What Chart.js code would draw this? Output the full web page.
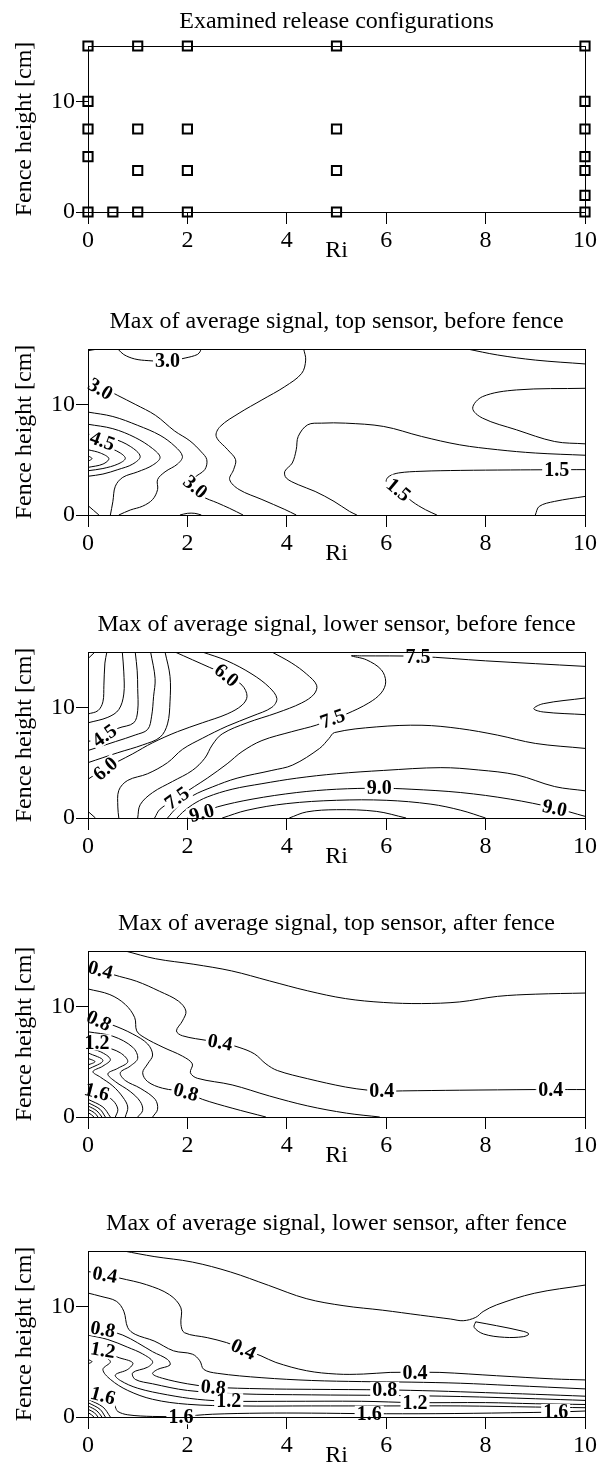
<!DOCTYPE html>
<html>
<head>
<meta charset="utf-8">
<script src="https://cdn.jsdelivr.net/npm/chart.js@4.4.1/dist/chart.umd.min.js"></script>
<style>
  html, body { margin: 0; padding: 0; background: #fff; }
  body { position: relative; width: 602px; height: 1462px; overflow: hidden; }
  canvas { position: absolute; left: 0; }
</style>
</head>
<body>
<canvas id="p0" width="602" height="303"></canvas>
<canvas id="p1" width="602" height="303"></canvas>
<canvas id="p2" width="602" height="303"></canvas>
<canvas id="p3" width="602" height="303"></canvas>
<canvas id="p4" width="602" height="303"></canvas>
<script>
// ---- axes ----
const riTicks = [0, 2, 4, 6, 8, 10];
const heightTicks = [0, 10];
const panelTops = [46, 349, 652, 951, 1251];

const panelTitles = [
  'Examined release configurations',
  'Max of average signal, top sensor, before fence',
  'Max of average signal, lower sensor, before fence',
  'Max of average signal, top sensor, after fence',
  'Max of average signal, lower sensor, after fence'
];

// ---- examined release configurations ----
const configRi     = [0, 0, 0, 0, 0, 0.5, 1, 1, 1, 1, 2, 2, 2, 2, 5, 5, 5, 5, 10, 10, 10, 10, 10, 10, 10];
const configHeight = [0, 5, 7.5, 10, 15, 0, 0, 3.75, 7.5, 15, 0, 3.75, 7.5, 15, 0, 3.75, 7.5, 15, 0, 1.5, 3.75, 5, 7.5, 10, 15];

const L = (level, ri, h) => ({ level, ri, h });

// ---- top sensor, before fence: contour lines (Ri, height) ----
const topBeforeLines = [
  L(3.0, [0, 0.2], [14.85, 15]),
  L(3.0, [0.6, 0.72, 0.94, 1.21, 1.6, 1.97, 2.2, 2.26, 2.27], [15, 14.5, 14.1, 13.95, 13.9, 14.2, 14.5, 14.8, 15]),
  L(3.0, [0, 0.3, 0.6, 0.95, 1.36, 1.74, 2.05, 2.28, 2.39, 2.35, 2.13, 2.12, 2.3, 2.6, 2.85, 3.12],
         [12.0, 11.5, 10.8, 10.0, 9.0, 7.6, 6.7, 5.7, 5.0, 4.1, 3.3, 2.6, 1.7, 1.1, 0.6, 0]),
  L(2.5, [4.34, 4.38, 4.3, 3.96, 3.5, 3.04, 2.66, 2.58, 2.81, 2.97, 2.93, 2.85, 3.04, 3.5, 3.96, 4.19],
         [15, 14, 12.8, 11.6, 10.4, 9.2, 8.0, 7.1, 5.9, 5.0, 4.1, 3.2, 2.3, 1.4, 0.5, 0]),
  L(2.0, [10, 9.0, 8.24, 7.48, 6.71, 5.95, 5.18, 4.7, 4.42, 4.23, 4.19, 4.11, 3.96, 3.99, 4.23, 4.57, 4.95, 5.26, 5.41],
         [5.4, 5.6, 5.9, 6.34, 7.1, 8.0, 8.3, 8.3, 8.15, 7.1, 5.9, 4.7, 3.94, 3.34, 2.74, 2.13, 1.23, 0.33, 0]),
  L(1.5, [10, 8.62, 7.94, 7.74, 7.94, 8.62, 9.39, 10], [11.45, 11.3, 10.7, 9.65, 8.75, 7.7, 6.64, 6.43]),
  L(1.5, [7.63, 8.24, 9.0, 10], [15, 14.46, 14.0, 13.65]),
  L(1.5, [10, 9.3, 8.5, 7.5, 6.7, 6.25, 6.06, 6.0, 6.05, 6.25, 6.52, 6.79, 7.02],
         [4.1, 4.09, 4.07, 4.03, 3.95, 3.8, 3.5, 3.1, 2.7, 2.28, 1.23, 0.48, 0]),
  L(1.0, [9.0, 9.08, 9.39, 10], [0, 0.78, 1.23, 1.68]),
  L(3.5, [0, 0.5, 1.0, 1.45, 1.75, 1.9, 1.8, 1.55, 1.4, 1.4, 1.3, 1.1, 0.85, 0.62],
         [9.3, 8.9, 8.1, 7.2, 6.2, 5.3, 4.6, 3.9, 3.2, 2.3, 1.4, 0.8, 0.45, 0]),
  L(3.0, [1.85, 2.0, 2.15, 2.28], [0, 0.15, 0.15, 0]),
  L(4.0, [0, 0.5, 0.95, 1.3, 1.45, 1.3, 1.0, 0.7, 0.55, 0.5, 0.45], [8.2, 7.8, 7.0, 6.0, 5.2, 4.5, 3.9, 3.4, 2.6, 1.2, 0]),
  L(4.5, [0, 0.5, 0.85, 1.05, 0.9, 0.6, 0.3, 0], [7.3, 6.9, 6.2, 5.3, 4.6, 4.1, 3.7, 3.5]),
  L(5.0, [0, 0.35, 0.65, 0.75, 0.6, 0.3, 0], [6.5, 6.2, 5.6, 5.1, 4.6, 4.2, 4.0]),
  L(5.5, [0, 0.25, 0.42, 0.3, 0], [5.9, 5.6, 5.1, 4.6, 4.3]),
  L(6.0, [0, 0.08, 0], [5.35, 5.1, 4.85]),
  L(4.0, [0, 0.22], [0.85, 0])
];
const topBeforeLabels = [
  { text: '3.0', ri: 1.6, h: 13.9, angle: 0 },
  { text: '3.0', ri: 0.25, h: 11.4, angle: 30 },
  { text: '4.5', ri: 0.29, h: 6.7, angle: 20 },
  { text: '3.0', ri: 2.16, h: 2.55, angle: 40 },
  { text: '1.5', ri: 6.25, h: 2.28, angle: 40 },
  { text: '1.5', ri: 9.43, h: 4.07, angle: 0 }
];

// ---- lower sensor, before fence ----
const lowerBeforeLines = [
  L(3.0, [0, 0.14], [14.4, 15]),
  L(3.5, [0, 0.2, 0.3, 0.32, 0.34, 0.38], [9.4, 9.7, 10.5, 12, 14, 15]),
  L(4.0, [0, 0.4, 0.62, 0.72, 0.72, 0.69], [8.6, 9.1, 9.8, 11.2, 13.2, 15]),
  L(4.5, [0, 0.35, 0.6, 0.92, 1.0, 1.0, 0.99, 0.95], [6.9, 7.5, 8.1, 8.6, 9.7, 11.7, 13.3, 15]),
  L(5.0, [0, 0.55, 0.95, 1.2, 1.28, 1.32, 1.35, 1.26], [6.1, 6.9, 7.5, 8.0, 9.2, 11.0, 12.6, 15]),
  L(5.5, [0, 0.6, 1.1, 1.45, 1.6, 1.65, 1.65, 1.55], [5.0, 5.9, 6.6, 7.3, 8.5, 10.5, 12.8, 15]),
  L(6.0, [1.75, 2.1, 2.45, 2.8, 3.1, 3.2, 3.1, 2.8, 2.3, 1.8, 1.3, 0.9, 0.6, 0.35, 0.1, 0],
         [15, 14.3, 13.6, 12.9, 12.0, 11.0, 10.2, 9.4, 8.6, 7.8, 6.8, 5.8, 5.1, 4.5, 3.8, 3.5]),
  L(6.5, [2.3, 2.8, 3.3, 3.65, 3.8, 3.7, 3.3, 2.8, 2.3, 1.9, 1.6, 1.2, 0.8, 0.62, 0.6, 0.62],
         [15, 14.2, 13.0, 11.8, 10.8, 10.0, 9.2, 8.3, 7.2, 6.2, 5.0, 4.0, 3.4, 2.5, 1.0, 0]),
  L(7.0, [3.7, 4.1, 4.4, 4.6, 4.55, 4.3, 3.8, 3.2, 2.7, 2.5, 2.35, 2.1, 1.7, 1.3, 1.05, 1.0],
         [15, 14.0, 13.0, 12.0, 11.2, 10.4, 9.5, 8.6, 7.6, 6.6, 5.4, 4.3, 3.3, 2.3, 1.2, 0]),
  L(7.5, [10, 8.0, 6.64, 5.5, 5.3, 5.6, 5.9, 5.99, 5.9, 5.65, 5.2, 4.92, 4.6, 4.1, 3.5, 3.1, 2.8, 2.4, 2.14, 1.79, 1.45, 1.34],
         [13.7, 14.2, 14.6, 14.65, 14.65, 14.3, 13.4, 12.3, 11.3, 10.4, 9.4, 8.98, 8.4, 7.8, 7.0, 6.0, 4.9, 3.6, 2.84, 1.8, 0.8, 0]),
  L(8.0, [10, 9.16, 8.97, 9.16, 10], [10.84, 10.33, 9.88, 9.58, 9.34]),
  L(8.0, [10, 9.0, 8.24, 7.48, 6.72, 5.8, 4.96, 4.85, 4.66, 4.12, 3.7, 3.0, 2.5, 2.1, 1.8, 1.6],
         [6.29, 6.74, 7.49, 8.08, 8.38, 8.23, 7.72, 7.19, 6.29, 4.79, 4.3, 3.6, 2.8, 2.0, 1.0, 0]),
  L(8.5, [10, 9.39, 8.63, 7.86, 7.1, 5.95, 5.0, 4.2, 3.5, 2.9, 2.4, 2.1, 1.9, 1.79],
         [2.46, 2.84, 3.89, 4.34, 4.55, 4.3, 4.0, 3.6, 3.1, 2.6, 1.9, 1.2, 0.5, 0]),
  L(9.0, [10, 9.39, 8.5, 7.5, 6.5, 5.86, 5.0, 4.2, 3.3, 2.6, 2.29, 2.0],
         [0.15, 0.9, 1.7, 2.3, 2.6, 2.69, 2.6, 2.3, 1.7, 1.0, 0.45, 0]),
  L(9.5, [2.7, 3.2, 4.0, 5.0, 6.0, 6.9, 7.5, 8.0], [0, 0.7, 1.3, 1.6, 1.6, 1.25, 0.7, 0]),
  L(10.0, [4.05, 4.4, 5.0, 5.8, 6.4], [0, 0.55, 0.75, 0.6, 0]),
  L(6.0, [0, 0.15], [0.6, 0])
];
const lowerBeforeLabels = [
  { text: '4.5', ri: 0.33, h: 7.45, angle: -35 },
  { text: '6.0', ri: 0.35, h: 4.45, angle: -40 },
  { text: '6.0', ri: 2.79, h: 12.9, angle: 40 },
  { text: '7.5', ri: 6.64, h: 14.6, angle: 0 },
  { text: '7.5', ri: 4.92, h: 8.98, angle: -20 },
  { text: '7.5', ri: 1.79, h: 1.8, angle: -35 },
  { text: '9.0', ri: 5.86, h: 2.69, angle: 0 },
  { text: '9.0', ri: 2.29, h: 0.45, angle: -15 },
  { text: '9.0', ri: 9.39, h: 0.9, angle: 12 }
];

// ---- top sensor, after fence ----
const topAfterLines = [
  L(0.2, [0.75, 1.36, 2.13, 2.89, 3.65, 4.42, 5.18, 5.95, 6.71, 7.48, 8.24, 9.01, 10],
         [15, 14.3, 13.8, 13.2, 12.3, 11.4, 10.7, 10.35, 10.25, 10.4, 10.9, 11.1, 11.2]),
  L(0.4, [0, 0.25, 0.52, 0.98, 1.44, 1.82, 1.97, 1.9, 1.78, 1.9, 2.43, 2.66, 3.04, 3.35, 3.58, 3.81, 4.42, 5.18, 5.64, 5.91, 6.33, 7.48, 9.0, 9.31, 10],
         [13.6, 13.3, 12.85, 12.26, 11.36, 10.47, 9.57, 8.68, 7.78, 7.34, 6.89, 6.74, 6.29, 5.7, 4.8, 4.2, 3.46, 2.71, 2.42, 2.33, 2.36, 2.42, 2.48, 2.48, 2.48]),
  L(0.6, [0, 0.44, 0.75, 0.94, 0.98, 1.13, 1.51, 1.9, 2.1, 2.06, 2.2, 2.9, 3.65, 4.42, 5.2, 5.87],
         [11.57, 11.06, 10.17, 8.98, 7.78, 7.19, 6.3, 5.5, 4.8, 4.0, 3.5, 2.9, 1.9, 1.0, 0.35, 0]),
  L(0.8, [0, 0.2, 0.5, 0.9, 1.2, 1.3, 1.2, 1.1, 1.2, 1.5, 1.97, 2.3, 2.9, 3.58],
         [8.9, 8.7, 8.3, 7.5, 6.6, 5.6, 4.8, 4.0, 3.2, 2.6, 2.25, 1.6, 0.8, 0]),
  L(1.0, [0, 0.5, 0.9, 1.0, 0.85, 0.65, 0.75, 1.05, 1.35, 1.4, 1.3],
         [7.7, 7.3, 6.3, 5.3, 4.6, 4.0, 3.3, 2.6, 1.6, 0.7, 0]),
  L(1.2, [0, 0.3, 0.65, 0.8, 0.6, 0.4, 0.55, 0.85, 1.05, 1.1, 1.0],
         [6.8, 6.4, 5.8, 5.0, 4.4, 3.9, 3.2, 2.3, 1.4, 0.6, 0]),
  L(1.4, [0, 0.25, 0.45, 0.3, 0.1, 0.25, 0.5, 0.7, 0.8, 0.75], [6.2, 5.9, 5.2, 4.6, 4.1, 3.6, 2.8, 1.8, 0.9, 0]),
  L(1.6, [0, 0.25, 0.5, 0.6, 0.55], [2.6, 2.2, 1.5, 0.7, 0]),
  L(1.8, [0, 0.3, 0.45], [1.6, 0.9, 0]),
  L(2.0, [0, 0.24, 0.35], [1.3, 0.7, 0]),
  L(2.2, [0, 0.18, 0.28], [1.0, 0.55, 0]),
  L(2.4, [0, 0.13, 0.2], [0.7, 0.38, 0]),
  L(2.6, [0, 0.07, 0.12], [0.4, 0.2, 0]),
  L(1.6, [0, 0.3, 0], [5.8, 5.1, 4.3]),
  L(1.8, [0, 0.14, 0], [5.3, 5.0, 4.7])
];
const topAfterLabels = [
  { text: '0.4', ri: 0.25, h: 13.3, angle: 15 },
  { text: '0.4', ri: 2.66, h: 6.74, angle: 10 },
  { text: '0.4', ri: 5.91, h: 2.33, angle: 0 },
  { text: '0.4', ri: 9.31, h: 2.48, angle: 0 },
  { text: '0.8', ri: 0.22, h: 8.7, angle: 25 },
  { text: '0.8', ri: 1.97, h: 2.25, angle: 15 },
  { text: '1.2', ri: 0.18, h: 6.74, angle: 0 },
  { text: '1.6', ri: 0.18, h: 2.27, angle: 15 }
];

// ---- lower sensor, after fence ----
const lowerAfterLines = [
  L(0.2, [0.72, 1.33, 2.1, 2.87, 3.63, 4.39, 5.15, 5.93, 6.69, 7.3, 7.55, 7.8, 7.95, 8.22, 8.98, 10],
         [15, 14.5, 14.0, 13.1, 11.9, 10.7, 10.05, 9.65, 9.2, 8.85, 8.7, 9.0, 9.53, 10.13, 11.18, 11.92]),
  L(0.2, [7.8, 7.77, 7.96, 8.38, 8.76, 8.87, 8.76, 8.22, 7.8], [8.6, 8.1, 7.5, 7.2, 7.26, 7.5, 7.74, 8.25, 8.6]),
  L(0.4, [0, 0.34, 0.64, 1.18, 1.64, 1.87, 1.87, 1.94, 2.4, 2.79, 3.13, 3.48, 3.78, 4.4, 5.0, 5.54, 6.08, 6.58, 7.08, 8.22, 9.37, 10],
         [13.15, 12.85, 12.55, 11.95, 11.05, 9.86, 8.37, 7.62, 7.17, 6.72, 6.12, 5.53, 4.93, 4.18, 3.88, 3.88, 4.03, 4.03, 4.03, 3.73, 3.44, 3.35]),
  L(0.6, [0, 0.26, 0.57, 0.72, 0.8, 0.95, 1.33, 1.72, 2.1, 2.25, 2.33, 2.6, 3.5, 4.5, 5.5, 6.5, 7.5, 8.5, 10],
         [11.2, 10.9, 10.46, 9.56, 8.07, 7.47, 6.87, 5.98, 5.68, 5.08, 4.3, 3.95, 3.55, 3.3, 3.2, 3.15, 3.05, 2.85, 2.54]),
  L(0.8, [0, 0.3, 0.7, 1.0, 1.3, 1.6, 1.65, 1.4, 1.3, 1.5, 2.0, 2.52, 3.5, 4.5, 5.97, 7.0, 8.0, 9.0, 10],
         [8.1, 7.9, 7.4, 6.7, 5.9, 5.2, 4.7, 4.3, 3.9, 3.5, 3.0, 2.7, 2.55, 2.5, 2.45, 2.35, 2.2, 2.05, 1.88]),
  L(1.0, [0, 0.4, 0.8, 1.1, 1.3, 1.2, 0.9, 0.95, 1.3, 2.0, 3.0, 4.5, 6.0, 7.5, 9.0, 10],
         [7.4, 7.0, 6.3, 5.7, 5.0, 4.5, 4.0, 3.4, 3.0, 2.4, 2.1, 2.0, 1.95, 1.85, 1.65, 1.5]),
  L(1.2, [0, 0.3, 0.6, 0.9, 0.8, 0.55, 0.65, 1.0, 1.6, 2.2, 2.83, 4.0, 5.5, 6.58, 8.0, 9.0, 10],
         [6.4, 6.0, 5.4, 4.9, 4.3, 3.8, 3.3, 2.6, 2.0, 1.6, 1.43, 1.42, 1.42, 1.3, 1.3, 1.2, 1.13]),
  L(1.4, [0, 0.25, 0.45, 0.3, 0.45, 0.8, 1.3, 2.0, 3.0, 4.5, 6.0, 7.5, 9.0, 10],
         [5.9, 5.6, 5.0, 4.3, 3.4, 2.4, 1.6, 1.15, 1.0, 1.0, 1.0, 1.0, 0.9, 0.84]),
  L(1.6, [0, 0.25, 0.5, 0.55, 0.6, 0.8, 1.3, 1.87, 2.5, 3.5, 4.5, 5.66, 7.0, 8.5, 9.41, 10],
         [2.3, 2.0, 1.4, 0.9, 0.5, 0.2, 0.05, 0.06, 0.25, 0.35, 0.35, 0.3, 0.3, 0.38, 0.45, 0.54]),
  L(1.8, [0, 0.3, 0.45], [1.6, 0.9, 0]),
  L(2.0, [0, 0.24, 0.35], [1.3, 0.7, 0]),
  L(2.2, [0, 0.18, 0.28], [1.0, 0.55, 0]),
  L(2.4, [0, 0.13, 0.2], [0.7, 0.38, 0]),
  L(2.6, [0, 0.07, 0.12], [0.4, 0.2, 0]),
  L(1.8, [0, 0.08, 0], [5.2, 5.0, 4.8])
];
const lowerAfterLabels = [
  { text: '0.4', ri: 0.34, h: 12.85, angle: 10 },
  { text: '0.4', ri: 3.13, h: 6.12, angle: 25 },
  { text: '0.4', ri: 6.58, h: 4.03, angle: 0 },
  { text: '0.8', ri: 0.3, h: 7.92, angle: 10 },
  { text: '1.2', ri: 0.3, h: 6.05, angle: 10 },
  { text: '1.6', ri: 0.3, h: 1.94, angle: 15 },
  { text: '0.8', ri: 2.52, h: 2.69, angle: 5 },
  { text: '1.2', ri: 2.83, h: 1.43, angle: 0 },
  { text: '1.6', ri: 1.87, h: 0.06, angle: 0 },
  { text: '0.8', ri: 5.97, h: 2.45, angle: 0 },
  { text: '1.2', ri: 6.58, h: 1.3, angle: 0 },
  { text: '1.6', ri: 5.66, h: 0.3, angle: 0 },
  { text: '1.6', ri: 9.41, h: 0.45, angle: 0 }
];

// ---- drawing ----
const SERIF = "'Liberation Serif', 'Times New Roman', serif";

const contourDatasets = lines => lines.map(ln => ({
  label: 'level ' + ln.level,
  data: ln.ri.map((r, i) => ({ x: r, y: ln.h[i] })),
  showLine: true,
  borderColor: '#000',
  borderWidth: 1,
  pointRadius: 0,
  tension: 0.35,
  fill: false
}));

// Frame, panel title, axis titles, and contour value labels
const panelDecor = {
  id: 'panelDecor',
  afterDatasetsDraw(chart, args, opts) {
    const { ctx, scales: { x, y } } = chart;
    (opts.labels || []).forEach(lb => {
      const px = x.getPixelForValue(lb.ri), py = y.getPixelForValue(lb.h);
      ctx.save();
      ctx.translate(px, py);
      ctx.rotate(lb.angle * Math.PI / 180);
      ctx.font = 'bold 20px ' + SERIF;
      const w = ctx.measureText(lb.text).width;
      ctx.fillStyle = '#fff';
      ctx.fillRect(-w / 2 - 2, -8, w + 4, 16);
      ctx.fillStyle = '#000';
      ctx.textAlign = 'center';
      ctx.textBaseline = 'middle';
      ctx.fillText(lb.text, 0, 1);
      ctx.restore();
    });
  },
  afterDraw(chart, args, opts) {
    const { ctx, chartArea: a } = chart;
    ctx.save();
    ctx.strokeStyle = '#000';
    ctx.lineWidth = 1;
    ctx.strokeRect(a.left + 0.5, a.top + 0.5, a.right - a.left, a.bottom - a.top);
    ctx.fillStyle = '#000';
    ctx.font = '24px ' + SERIF;
    ctx.textAlign = 'center';
    ctx.textBaseline = 'alphabetic';
    ctx.fillText(opts.title, (a.left + a.right) / 2, a.top - opts.titleGap);
    ctx.fillText('Ri', (a.left + a.right) / 2, a.bottom + 45);
    ctx.translate(25, (a.top + a.bottom) / 2);
    ctx.rotate(-Math.PI / 2);
    ctx.textBaseline = 'middle';
    ctx.fillText('Fence height [cm]', 0, 0);
    ctx.restore();
  }
};

function makePanel(idx, datasets, labels) {
  const canvas = document.getElementById('p' + idx);
  canvas.style.top = (panelTops[idx] - 46) + 'px';
  return new Chart(canvas, {
    type: 'scatter',
    data: { datasets },
    options: {
      responsive: false,
      animation: false,
      events: [],
      layout: { padding: { left: 0, right: 17, top: 46, bottom: 0 } },
      plugins: {
        legend: { display: false },
        tooltip: { enabled: false },
        title: { display: false },
        panelDecor: { title: panelTitles[idx], titleGap: idx === 0 ? 18 : 21, labels }
      },
      scales: {
        x: {
          type: 'linear', min: 0, max: 10,
          afterBuildTicks: s => { s.ticks = riTicks.map(v => ({ value: v })); },
          afterFit: s => { s.height = 91; },
          ticks: { font: { family: SERIF, size: 24 }, color: '#000', padding: 2, maxRotation: 0, autoSkip: false },
          grid: { drawOnChartArea: false, drawTicks: true, tickLength: 12, color: '#000', lineWidth: 1 },
          border: { display: true, color: '#000', width: 1 }
        },
        y: {
          type: 'linear', min: 0, max: 15,
          afterBuildTicks: s => { s.ticks = heightTicks.map(v => ({ value: v })); },
          afterFit: s => { s.width = 88; },
          ticks: { font: { family: SERIF, size: 24 }, color: '#000', padding: 1, autoSkip: false },
          grid: { drawOnChartArea: false, drawTicks: true, tickLength: 12, color: '#000', lineWidth: 1 },
          border: { display: true, color: '#000', width: 1 }
        }
      }
    },
    plugins: [panelDecor]
  });
}

makePanel(0, [{
  label: 'Configurations',
  data: configRi.map((r, i) => ({ x: r, y: configHeight[i] })),
  pointStyle: 'rect',
  pointRadius: 6.5,
  borderWidth: 2,
  borderColor: '#000',
  backgroundColor: 'rgba(0,0,0,0)',
  clip: false
}], []);
makePanel(1, contourDatasets(topBeforeLines), topBeforeLabels);
makePanel(2, contourDatasets(lowerBeforeLines), lowerBeforeLabels);
makePanel(3, contourDatasets(topAfterLines), topAfterLabels);
makePanel(4, contourDatasets(lowerAfterLines), lowerAfterLabels);
</script>
</body>
</html>
